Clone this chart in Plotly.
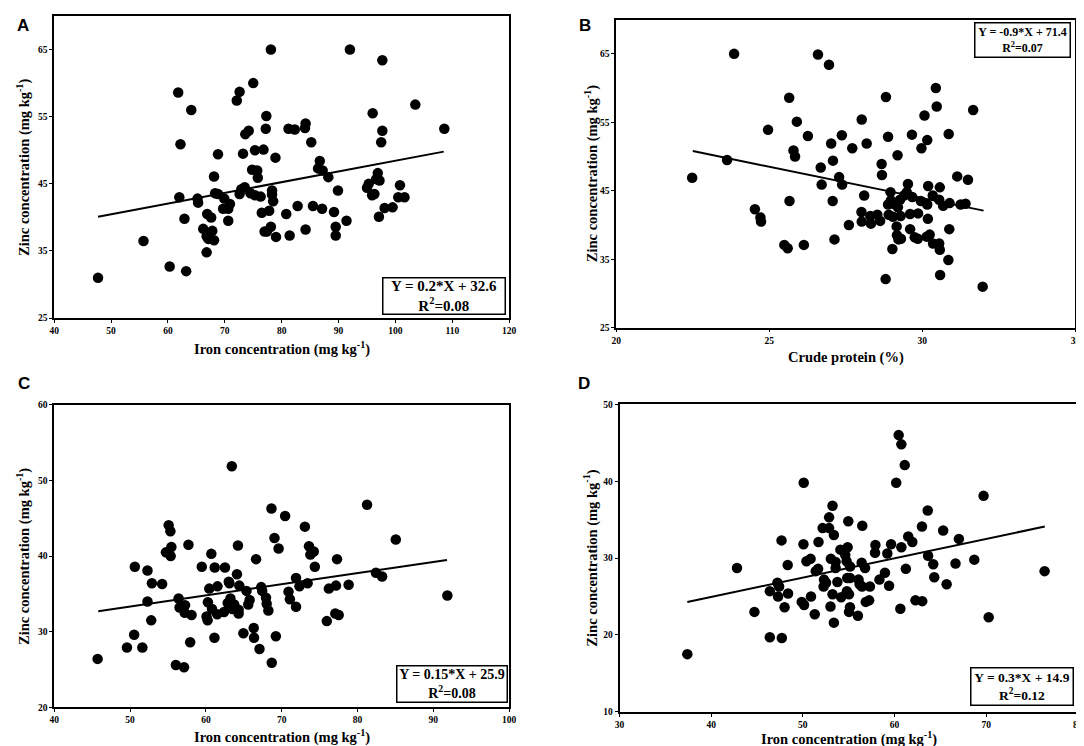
import plotly.graph_objects as go
from plotly.subplots import make_subplots

# Panel A: iron vs zinc
a_hierro = [47.7, 55.7, 60.3, 63.2, 61.8, 62.2, 62.0, 62.9, 64.1, 65.2,
            65.3, 66.2, 66.9, 66.8, 67.1, 66.8, 67.6, 67.8, 68.1, 68.1,
            68.3, 68.8, 68.8, 69.9, 69.7, 70.6, 70.9, 70.6, 72.1, 72.6,
            73.2, 72.6, 72.9, 73.5, 73.6, 74.2, 75.0, 74.8, 74.5, 75.3,
            75.3, 75.7, 75.8, 76.3, 77.3, 77.2, 76.8, 76.5, 77.8, 77.0,
            77.4, 78.1, 78.3, 78.3, 78.5, 78.1, 78.9, 79.0, 80.8, 81.2,
            81.4, 82.3, 82.8, 84.2, 84.1, 84.2, 85.2, 85.5, 86.7, 86.4,
            87.2, 87.1, 88.2, 89.2, 89.9, 89.5, 89.5, 91.4, 92.0, 95.3,
            95.0, 96.0, 95.9, 96.3, 96.6, 96.9, 97.2, 97.5, 97.7, 97.7,
            97.1, 98.1, 99.5, 100.5, 100.8, 101.6, 103.5, 108.6]
a_zinc = [31.0, 36.5, 32.7, 32.0, 58.6, 50.9, 43.0, 39.8, 56.0, 42.8,
          42.2, 38.3, 40.5, 37.2, 36.8, 34.8, 40.0, 38.0, 36.6, 46.1,
          43.6, 49.4, 43.5, 42.8, 41.3, 41.3, 42.0, 39.5, 57.4, 58.7,
          49.5, 43.5, 44.2, 44.5, 52.4, 52.9, 60.0, 47.1, 43.6, 43.3,
          50.0, 47.0, 45.9, 43.1, 55.1, 53.2, 50.1, 40.7, 41.0, 37.9,
          37.9, 65.0, 44.0, 43.4, 42.4, 38.6, 48.9, 37.1, 40.5, 53.2,
          37.3, 53.1, 41.7, 54.0, 53.3, 38.2, 51.2, 41.7, 48.4, 47.3,
          47.0, 41.3, 46.0, 40.8, 44.0, 38.6, 37.3, 39.5, 65.0, 45.0,
          44.4, 55.5, 43.3, 43.5, 45.7, 46.6, 45.5, 51.2, 52.9, 63.4,
          40.1, 41.4, 41.5, 43.0, 44.8, 43.0, 56.8, 53.2]

# Panel B: crude protein vs zinc
b_proteina = [22.48, 23.62, 23.85, 24.53, 24.71, 24.73, 24.96, 25.49, 25.60, 25.65,
              25.66, 25.79, 25.84, 25.90, 26.13, 26.26, 26.59, 26.68, 26.71, 26.95,
              27.02, 27.08, 27.07, 27.13, 27.28, 27.37, 27.38, 27.60, 27.71, 28.02,
              28.01, 28.02, 28.10, 28.18, 28.30, 28.32, 28.53, 28.62, 28.67, 28.68,
              28.81, 28.80, 28.88, 28.88, 28.90, 28.96, 28.97, 29.02, 29.04, 29.11,
              29.16, 29.17, 29.19, 29.20, 29.22, 29.29, 29.30, 29.27, 29.40, 29.53,
              29.49, 29.60, 29.60, 29.66, 29.67, 29.75, 29.86, 29.85, 29.97, 29.95,
              30.07, 30.16, 30.16, 30.18, 30.19, 30.14, 30.24, 30.34, 30.35, 30.44,
              30.47, 30.55, 30.57, 30.55, 30.57, 30.58, 30.68, 30.85, 30.86, 30.88,
              30.89, 31.14, 31.25, 31.41, 31.49, 31.66, 31.97]
b_zinc = [46.9, 49.5, 65.0, 42.3, 41.1, 40.5, 53.9, 37.1, 36.6, 58.6,
          43.5, 50.9, 50.0, 55.1, 37.1, 53.0, 64.9, 48.4, 45.9, 63.4,
          51.9, 49.4, 43.5, 37.9, 47.0, 53.1, 45.9, 40.0, 51.2, 55.4,
          41.9, 40.5, 44.3, 51.9, 41.3, 40.2, 41.5, 40.6, 48.9, 47.3,
          58.7, 32.1, 52.9, 43.0, 41.5, 44.8, 43.6, 36.5, 41.2, 43.0,
          39.8, 38.5, 50.2, 42.6, 37.9, 41.3, 38.0, 43.7, 44.3, 46.0,
          44.8, 41.6, 39.4, 53.2, 44.1, 38.2, 41.7, 38.0, 51.2, 43.5,
          56.0, 52.4, 43.0, 40.9, 45.7, 38.3, 38.6, 44.3, 37.3, 60.0,
          57.3, 43.7, 45.5, 37.3, 36.4, 32.7, 42.8, 34.9, 53.3, 39.4,
          43.2, 47.1, 43.0, 43.1, 46.6, 56.8, 31.0]

# Panel C: iron vs zinc
c_hierro = [45.72, 49.59, 50.54, 50.63, 51.62, 52.30, 52.30, 52.88, 52.79, 54.23,
            54.73, 55.09, 55.32, 55.36, 55.45, 56.40, 56.53, 56.04, 57.12, 57.25,
            57.21, 57.70, 57.93, 58.11, 59.46, 60.27, 60.09, 60.23, 60.45, 60.72,
            60.81, 61.17, 61.13, 61.49, 61.53, 62.52, 62.39, 62.88, 63.02, 63.24,
            63.11, 63.42, 63.51, 63.74, 64.10, 64.23, 64.41, 64.32, 64.32, 64.95,
            65.36, 65.59, 65.77, 66.31, 66.35, 66.62, 67.07, 67.30, 67.43, 67.93,
            68.02, 68.24, 68.65, 68.69, 69.05, 69.23, 69.59, 70.45, 70.90, 71.08,
            71.89, 71.89, 72.34, 73.06, 73.42, 73.60, 73.78, 74.23, 74.37, 75.95,
            76.22, 77.16, 77.30, 77.07, 77.52, 78.83, 81.26, 82.43, 83.24, 85.05, 91.85]
c_zinc = [26.4, 27.9, 29.6, 38.6, 27.9, 38.1, 34.0, 36.4, 31.5, 36.3,
          40.5, 44.1, 43.3, 40.0, 41.2, 34.4, 33.2, 25.6, 25.3, 33.5,
          32.5, 41.5, 28.6, 32.2, 38.6, 33.9, 32.0, 31.5, 35.7, 40.3,
          33.0, 38.5, 29.2, 32.3, 36.0, 38.5, 32.6, 33.8, 36.6, 34.4,
          36.4, 51.9, 33.0, 33.6, 37.6, 41.4, 36.1, 32.9, 32.4, 29.8,
          35.4, 33.6, 34.2, 30.5, 29.2, 39.6, 27.7, 35.9, 35.4, 34.5,
          33.7, 32.8, 46.3, 25.9, 42.4, 29.4, 41.0, 45.3, 35.3, 34.3,
          37.1, 33.3, 36.0, 43.9, 36.4, 41.3, 40.2, 40.6, 38.6, 31.4,
          35.7, 36.1, 39.6, 32.4, 32.2, 36.2, 46.8, 37.8, 37.3, 42.2, 34.8]

# Panel D: iron vs zinc
d_hierro = [37.40, 42.82, 44.72, 46.40, 46.40, 47.23, 47.41, 47.30, 47.68, 47.71,
            48.01, 48.35, 48.39, 49.88, 50.14, 50.10, 50.07, 50.40, 50.85, 50.89,
            51.30, 51.41, 51.67, 51.71, 52.16, 52.31, 52.27, 52.53, 52.87, 52.87,
            53.06, 53.02, 53.24, 53.39, 53.24, 53.39, 53.58, 53.58, 53.77, 54.10,
            54.18, 54.63, 54.89, 54.78, 54.85, 54.81, 54.96, 55.15, 55.15, 55.04,
            55.15, 55.04, 56.01, 56.08, 56.20, 56.42, 56.49, 56.46, 56.79, 56.87,
            57.24, 57.32, 57.92, 57.88, 58.36, 58.96, 59.22, 59.41, 59.63, 60.19,
            60.46, 60.75, 61.12, 60.64, 60.75, 61.24, 61.50, 61.95, 62.29, 63.03,
            63.00, 63.63, 63.67, 64.23, 64.34, 65.31, 65.69, 66.66, 67.03, 68.71,
            69.72, 70.28, 76.38]
d_zinc = [17.5, 28.7, 23.0, 25.7, 19.7, 26.8, 26.3, 25.0, 32.3, 19.6,
          23.6, 29.1, 25.4, 24.3, 23.9, 39.8, 31.8, 29.6, 29.9, 25.0,
          22.7, 28.3, 28.6, 32.1, 33.9, 27.2, 26.3, 26.8, 35.3, 33.9,
          29.9, 23.7, 36.8, 33.0, 25.3, 21.6, 29.5, 28.7, 26.9, 31.1,
          24.9, 30.4, 31.4, 29.6, 27.4, 25.7, 34.8, 27.4, 28.9, 25.3,
          23.6, 23.0, 22.5, 27.2, 26.6, 29.4, 34.2, 26.3, 28.7, 24.3,
          24.5, 26.3, 31.7, 30.7, 27.2, 28.1, 30.6, 26.4, 31.8, 39.8,
          46.0, 44.8, 42.1, 23.4, 31.4, 28.6, 32.8, 32.1, 24.5, 24.4,
          34.1, 36.2, 30.3, 29.2, 27.5, 33.6, 26.6, 29.3, 32.5, 29.8,
          38.1, 22.3, 28.3]

# Regression lines (end points)
a_recta_x, a_recta_y = [47.7, 108.5], [40.1, 49.8]
b_recta_x, b_recta_y = [22.5, 32.0], [50.8, 42.1]
c_recta_x, c_recta_y = [45.8, 91.8], [32.7, 39.5]
d_recta_x, d_recta_y = [37.4, 76.4], [24.3, 34.1]

# Equations
ecuaciones = ["Y = 0.2*X + 32.6", "Y = -0.9*X + 71.4", "Y = 0.15*X + 25.9", "Y = 0.3*X + 14.9"]
r2 = ["0.08", "0.07", "0.08", "0.12"]

# Ticks
a_xticks = [40, 50, 60, 70, 80, 90, 100, 110, 120]
a_yticks = [25, 35, 45, 55, 65]
b_xticks = [20, 25, 30, 35]
b_yticks = [25, 35, 45, 55, 65]
c_xticks = [40, 50, 60, 70, 80, 90, 100]
c_yticks = [20, 30, 40, 50, 60]
d_xticks = [30, 40, 50, 60, 70, 80]
d_yticks = [10, 20, 30, 40, 50]

titulo_hierro = "Iron concentration (mg kg<sup>-1</sup>)"
titulo_proteina = "Crude protein (%)"
titulo_zinc = "Zinc concentration (mg kg<sup>-1</sup>)"

W, H = 1084, 746
SERIF = "Liberation Serif"
fuente_titulo = dict(family=SERIF, size=14.5, color="black", weight="bold")

fig = make_subplots(rows=2, cols=2)

paneles = [
    (1, 1, a_hierro, a_zinc, a_recta_x, a_recta_y),
    (1, 2, b_proteina, b_zinc, b_recta_x, b_recta_y),
    (2, 1, c_hierro, c_zinc, c_recta_x, c_recta_y),
    (2, 2, d_hierro, d_zinc, d_recta_x, d_recta_y),
]
for fila, col, x, y, rx, ry in paneles:
    fig.add_trace(go.Scatter(x=x, y=y, mode="markers",
                             marker=dict(color="black", size=10.5, line=dict(width=0)),
                             showlegend=False), row=fila, col=col)
    fig.add_trace(go.Scatter(x=rx, y=ry, mode="lines",
                             line=dict(color="black", width=2),
                             showlegend=False), row=fila, col=col)

# pixel boxes of each plot area: left, right, top, bottom
cajas = {
    (1, 1): (41.7, 501.7, 3.0, 309.3),
    (1, 2): (610.0, 1074.3, 6.7, 319.0),
    (2, 1): (41.7, 501.7, 397.3, 703.7),
    (2, 2): (613.3, 1076.7, 396.7, 708.3),
}
# ranges, ticks, x title, x-title centre y (px), y-title centre x (px)
rangos = {
    (1, 1): ([40, 120], [25, 70], a_xticks, a_yticks, titulo_hierro, 340, 10),
    (1, 2): ([20, 35], [25, 70], b_xticks, b_yticks, titulo_proteina, 349, 585),
    (2, 1): ([40, 100], [20, 60], c_xticks, c_yticks, titulo_hierro, 733, 10),
    (2, 2): ([30, 80], [10, 50], d_xticks, d_yticks, titulo_hierro, 735.5, 584),
}
ejes = dict(showgrid=False, zeroline=False, showline=True, linecolor="black", linewidth=1.5,
            mirror=True, ticks="outside", ticklen=3, tickwidth=1.2, tickcolor="black",
            tickfont=dict(family=SERIF, size=9.5, color="black", weight="bold"))
for (fila, col), (l, r, t, b) in cajas.items():
    xr, yr, xt, yt, xtitulo, ty, tx = rangos[(fila, col)]
    fig.update_xaxes(domain=[l / W, r / W], range=xr, tickvals=xt, **ejes,
                     row=fila, col=col)
    fig.update_yaxes(domain=[1 - b / H, 1 - t / H], range=yr, tickvals=yt, **ejes,
                     row=fila, col=col)
    # axis titles placed as text at the measured positions
    fig.add_annotation(xref="paper", yref="paper", x=(l + r) / 2 / W, y=1 - ty / H,
                       xanchor="center", yanchor="middle", showarrow=False,
                       text=xtitulo, font=fuente_titulo)
    fig.add_annotation(xref="paper", yref="paper", x=tx / W, y=1 - (t + b) / 2 / H,
                       xanchor="center", yanchor="middle", showarrow=False, textangle=-90,
                       text=titulo_zinc, font=fuente_titulo)

# equation boxes: right, bottom (px), width, height, font size
cajas_ec = [(499.0, 306.0, 119, 33, 15),
            (1070.0, 45.7, 92, 31, 12),
            (500.7, 699.6, 107, 33, 14),
            (1072.7, 702.7, 99, 34, 13.5)]
for (xr_px, yb_px, ancho, alto, tam), ec, r in zip(cajas_ec, ecuaciones, r2):
    fig.add_annotation(xref="paper", yref="paper", x=xr_px / W, y=1 - yb_px / H,
                       xanchor="right", yanchor="bottom", showarrow=False,
                       text=f"{ec}<br>R<sup>2</sup>={r}", align="center",
                       width=ancho, height=alto, borderpad=1,
                       bordercolor="black", borderwidth=1.5, bgcolor="white",
                       font=dict(family=SERIF, size=tam, color="black", weight="bold"))

# panel letters
letras = ["A", "B", "C", "D"]
pos_letras = [(10, 13), (578, 13), (11, 376), (577, 376)]
for letra, (px, py) in zip(letras, pos_letras):
    fig.add_annotation(xref="paper", yref="paper", x=px / W, y=1 - py / H,
                       xanchor="center", yanchor="middle", showarrow=False, text=letra,
                       font=dict(family="Liberation Sans", size=17, color="black", weight="bold"))

fig.update_layout(width=W, height=H, margin=dict(l=0, r=0, t=0, b=0),
                  plot_bgcolor="white", paper_bgcolor="white")

fig.write_html("out.html")
